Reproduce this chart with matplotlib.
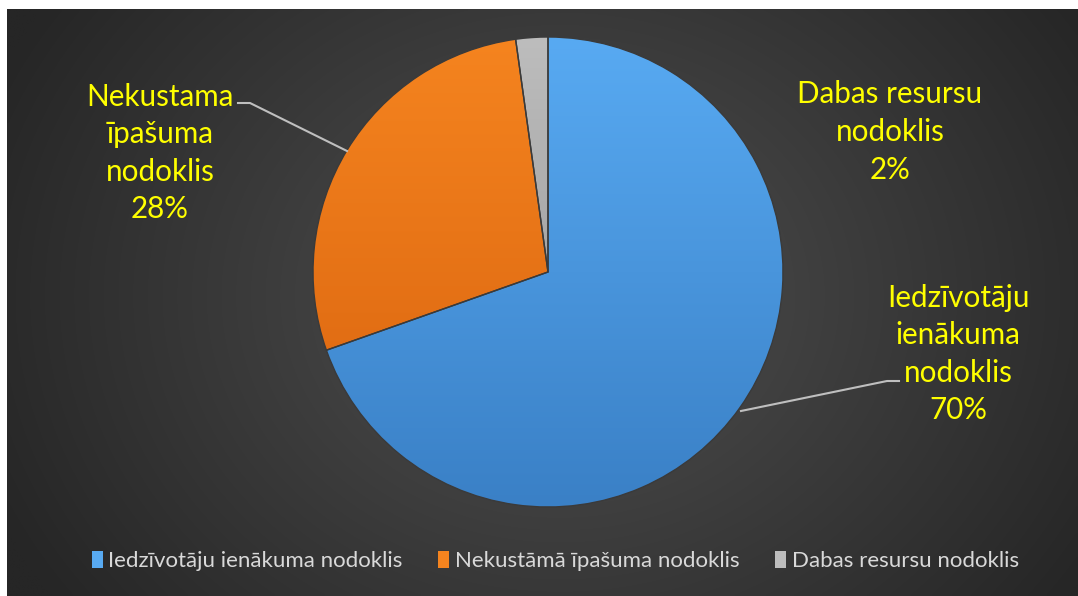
import matplotlib.pyplot as plt
import numpy as np
from matplotlib.colors import to_rgb
from matplotlib.patches import Rectangle

categories = ["Iedzīvotāju ienākuma nodoklis", "Nekustāmā īpašuma nodoklis", "Dabas resursu nodoklis"]
label_texts = ["Iedzīvotāju\nienākuma\nnodoklis", "Nekustama\nīpašuma\nnodoklis", "Dabas resursu\nnodoklis"]
shares = [69.6, 28.2, 2.2]

COLORS_TOP = ["#58aaf2", "#f5841f", "#bdbdbd"]
COLORS_BOTTOM = ["#3a80c6", "#d8620e", "#8f8f8f"]
LABEL_COLOR = "#ffff00"
FONT = "Lato"

W, H = 1078, 596
fig = plt.figure(figsize=(W / 100, H / 100), dpi=100)
fig.patch.set_facecolor("white")
ax = fig.add_axes([0, 0, 1, 1])
ax.set_xlim(0, W)
ax.set_ylim(0, H)
ax.set_aspect("equal")
ax.axis("off")

# radial background gradient, panel starts a few px in from left/top
x0, y_top = 7, H - 9
xx, yy = np.meshgrid(np.linspace(x0, W, 300), np.linspace(0, y_top, 200))
d = np.sqrt(((xx - 560) / 620) ** 2 + ((yy - 300) / 520) ** 2)
t = np.clip(d, 0, 1)
inner, outer = np.array(to_rgb("#505050")), np.array(to_rgb("#262626"))
bg = inner[None, None, :] * (1 - t[..., None]) + outer[None, None, :] * t[..., None]
ax.imshow(bg, extent=[x0, W, 0, y_top], origin="lower", zorder=0, interpolation="bilinear")

cx, cy, r = 548, H - 272, 235
wedges, _ = ax.pie(shares, center=(cx, cy), radius=r, startangle=90, counterclock=False,
                   colors=COLORS_TOP, wedgeprops=dict(edgecolor="#3a3a3a", linewidth=1.0))
ax.set_xlim(0, W)
ax.set_ylim(0, H)

# vertical gradient fill clipped to each wedge
for w, ctop, cbot in zip(wedges, COLORS_TOP, COLORS_BOTTOM):
    a, b = np.array(to_rgb(ctop)), np.array(to_rgb(cbot))
    g = np.linspace(0, 1, 256)[:, None, None]
    img = b[None, None, :] * (1 - g) + a[None, None, :] * g
    img = np.repeat(img, 2, axis=1)
    im = ax.imshow(img, extent=[cx - r, cx + r, cy - r, cy + r], origin="lower",
                   zorder=w.get_zorder() + 0.1, interpolation="bilinear")
    im.set_clip_path(w)
    w.set_facecolor("none")
    w.set_zorder(w.get_zorder() + 0.2)

# leader lines
ax.plot([899, 887, 741], [H - 381, H - 381, H - 411], color="#bfbfbf", lw=1.5, zorder=5)
ax.plot([238, 250, 347], [H - 103, H - 103, H - 151], color="#bfbfbf", lw=1.5, zorder=5)

# data labels
label_pos = [(958, H - 354), (160, H - 153), (890, H - 132)]
for txt, pct, (lx, ly) in zip(label_texts, shares, label_pos):
    ax.text(lx, ly, f"{txt}\n{round(pct):.0f}%", color=LABEL_COLOR, fontsize=21.3, family=FONT,
            ha="center", va="center", linespacing=1.42, zorder=6)

# legend
handles = [Rectangle((0, 0), 1, 1, facecolor=c, edgecolor="none") for c in COLORS_TOP]
leg = ax.legend(handles, categories, loc="center", bbox_to_anchor=(0.515, (H - 561) / H),
                ncol=3, frameon=False, handlelength=0.5, handleheight=0.85, handletextpad=0.25,
                columnspacing=1.6, prop={"family": FONT, "size": 16})
for text in leg.get_texts():
    text.set_color("#d9d9d9")

fig.savefig("out.png", dpi=100, facecolor=fig.get_facecolor())
